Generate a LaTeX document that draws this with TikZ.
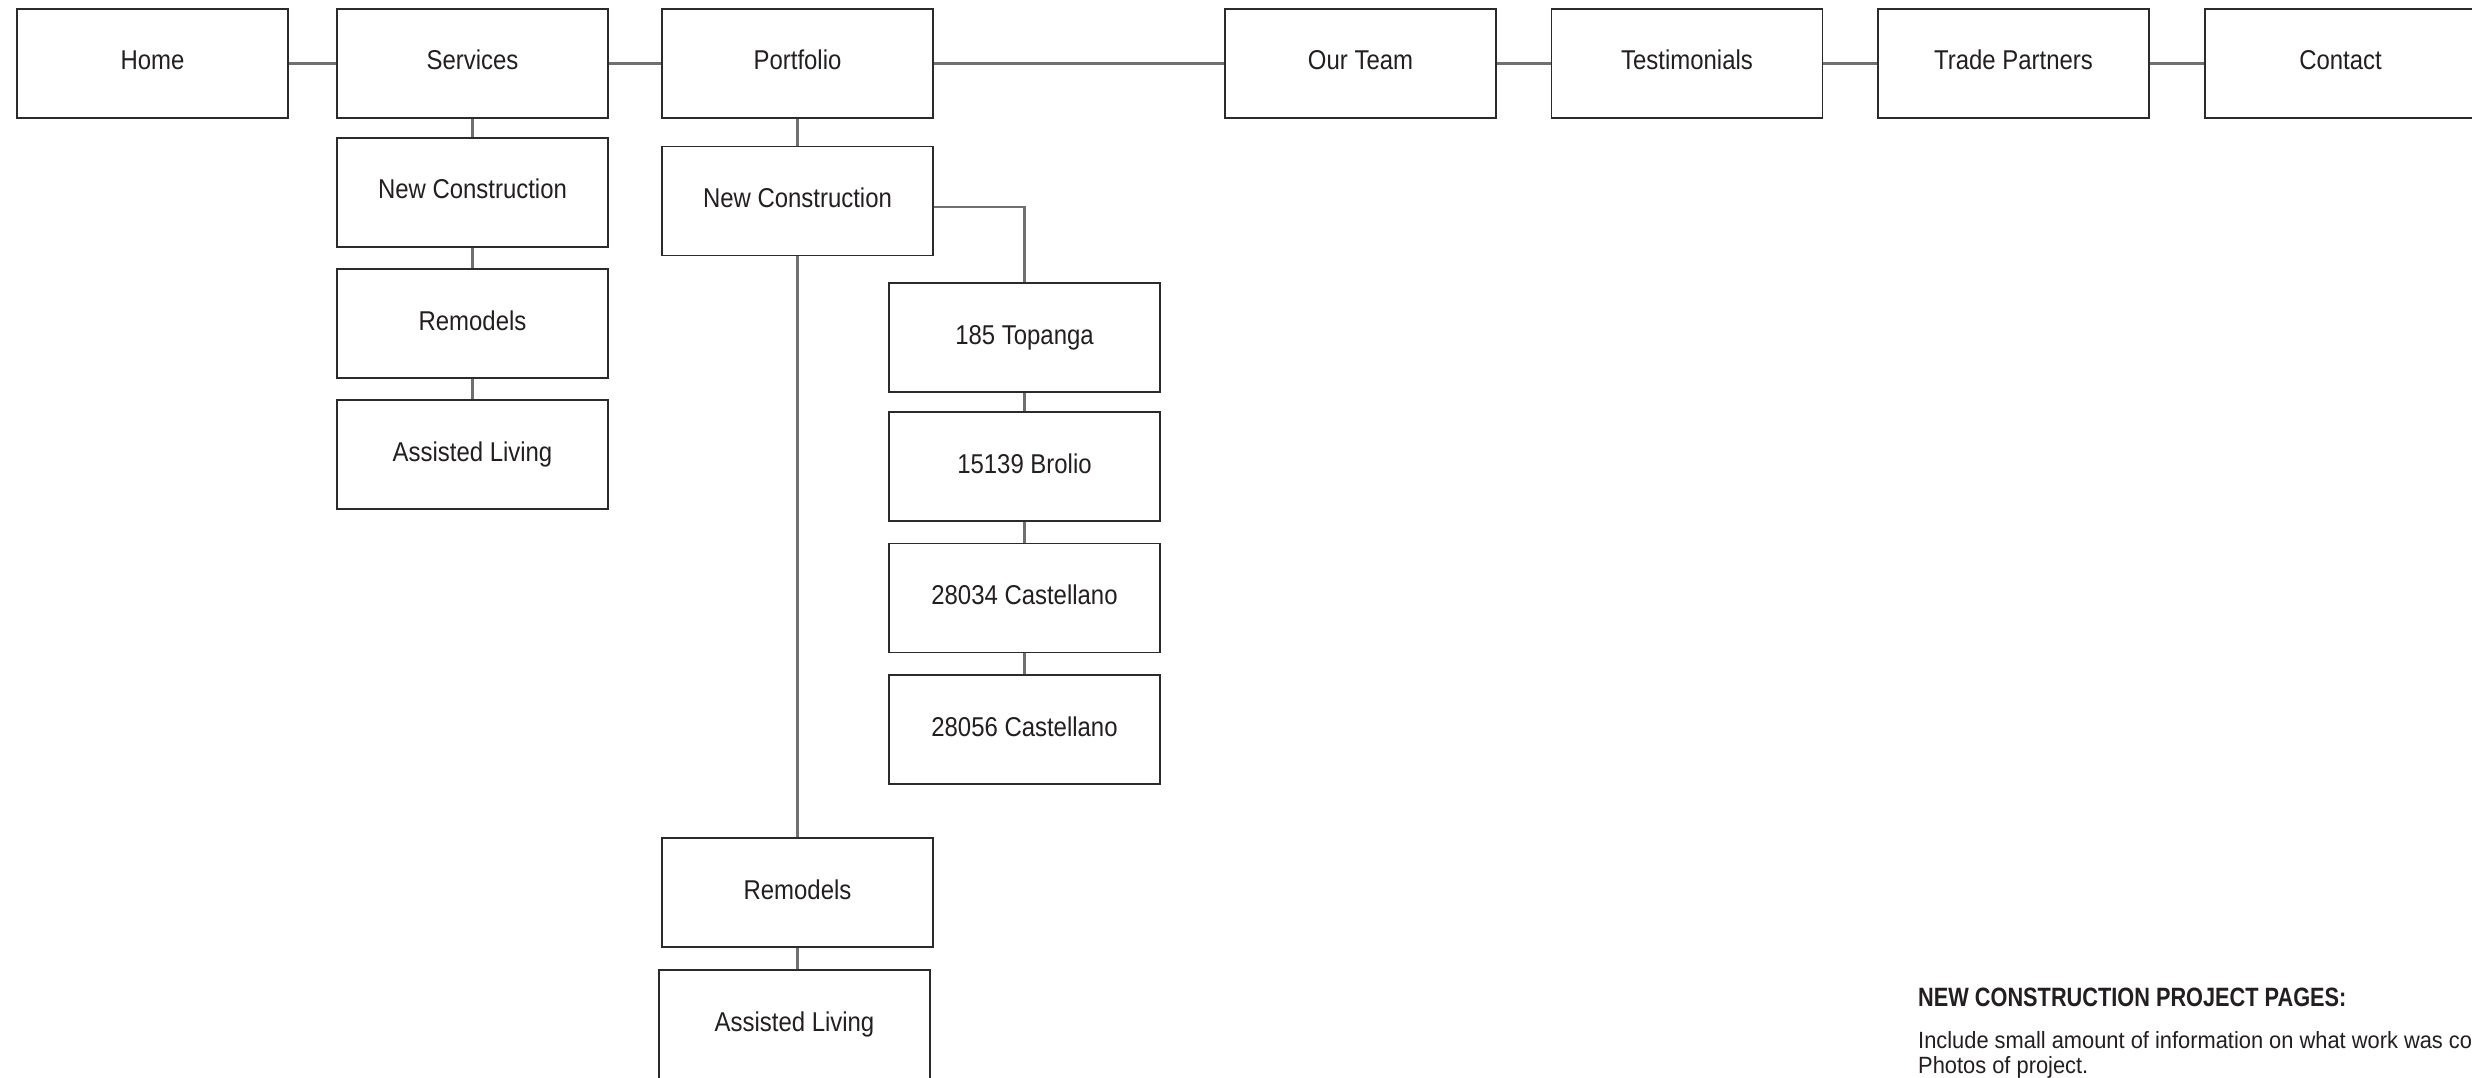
\documentclass[tikz,border=0pt]{standalone}
\usepackage{fontspec}
\setmainfont{Liberation Sans}[FakeStretch=0.88]
\newfontfamily\hdfont{Liberation Sans}[FakeStretch=0.82]
\newfontfamily\bodyfont{Liberation Sans}[FakeStretch=0.93]
\definecolor{boxline}{HTML}{2B2B2B}
\definecolor{conline}{HTML}{707070}
\definecolor{ink}{HTML}{231F20}
\begin{document}
\begin{tikzpicture}[x=1pt,y=-1pt,
  pagebox/.style={draw=boxline, line width=1.6pt, fill=white, minimum width=271pt, minimum height=109pt,
    inner sep=0pt, text=ink, font=\fontsize{27.2}{30}\selectfont, text height=20pt, text depth=7pt},
  conn/.style={draw=conline, line width=2.2pt},
  note/.style={anchor=base west, inner sep=0pt, text=ink}]
\clip (0,0) rectangle (2472,1078);
\fill[white] (0,0) rectangle (2472,1078);
% top row
\node[pagebox] (home) at (152.5,63.5) {Home};
\node[pagebox] (serv) at (472.5,63.5) {Services};
\node[pagebox] (port) at (797.5,63.5) {Portfolio};
\node[pagebox] (team) at (1360.5,63.5) {Our Team};
\node[pagebox] (test) at (1687,63.5) {Testimonials};
\node[pagebox] (trade) at (2013.5,63.5) {Trade Partners};
\node[pagebox] (cont) at (2340.5,63.5) {Contact};
% services column
\node[pagebox] (snc) at (472.5,192.5) {New Construction};
\node[pagebox] (srem) at (472.5,323.5) {Remodels};
\node[pagebox] (sal) at (472.5,454.5) {Assisted Living};
% portfolio column
\node[pagebox] (pnc) at (797.5,201) {New Construction};
\node[pagebox] (top) at (1024.5,337.5) {185 Topanga};
\node[pagebox] (bro) at (1024.5,466.5) {15139 Brolio};
\node[pagebox] (c34) at (1024.5,598) {28034 Castellano};
\node[pagebox] (c56) at (1024.5,729.5) {28056 Castellano};
\node[pagebox] (prem) at (797.5,892.5) {Remodels};
\node[pagebox] (pal) at (794.5,1024.5) {Assisted Living};
% connectors
\draw[conn] (home.east) -- (serv.west);
\draw[conn] (serv.east) -- (port.west);
\draw[conn] (port.east) -- (team.west);
\draw[conn] (team.east) -- (test.west);
\draw[conn] (test.east) -- (trade.west);
\draw[conn] (trade.east) -- (cont.west);
\draw[conn] (serv.south) -- (snc.north);
\draw[conn] (snc.south) -- (srem.north);
\draw[conn] (srem.south) -- (sal.north);
\draw[conn] (port.south) -- (pnc.north);
\draw[conn] ([yshift=-6pt]pnc.east) -| (top.north);
\draw[conn] (top.south) -- (bro.north);
\draw[conn] (bro.south) -- (c34.north);
\draw[conn] (c34.south) -- (c56.north);
\draw[conn] (pnc.south) -- (prem.north);
\draw[conn] (prem.south) -- (prem.south |- pal.north);
% notes
\node[note, font=\hdfont\bfseries\fontsize{26.5}{30}\selectfont] (nhead) at (1918,1006) {NEW CONSTRUCTION PROJECT PAGES:};
\node[note, font=\bodyfont\fontsize{23.5}{26}\selectfont] (nl1) at (1918,1048) {Include small amount of information on what work was completed.};
\node[note, font=\bodyfont\fontsize{23.5}{26}\selectfont] (nl2) at (1918,1073) {Photos of project.};
\end{tikzpicture}
\end{document}
